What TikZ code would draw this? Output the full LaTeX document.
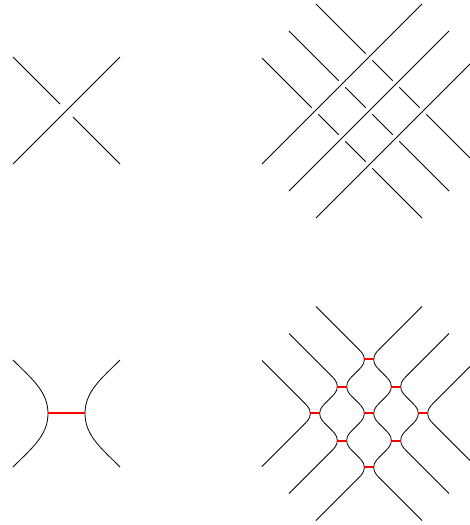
\documentclass[tikz,border=0pt]{standalone}
\newcommand\smoothcross[3]{%
  \begin{scope}[shift={({#1},{#2})},scale=#3]
    \draw[strand] (-53.5,-53.5) .. controls (-35,-35) and (-18.5,-22) .. (-18.5,0)
                  .. controls (-18.5,22) and (-35,35) .. (-53.5,53.5);
    \draw[strand] (53.5,-53.5) .. controls (35,-35) and (18.5,-22) .. (18.5,0)
                  .. controls (18.5,22) and (35,35) .. (53.5,53.5);
  \end{scope}}
\begin{document}
\begin{tikzpicture}[x=1pt,y=-1pt,
  strand/.style={line width=0.8pt,black},
  redbar/.style={line width=2pt,draw=red}]
\useasboundingbox (0,0) rectangle (470,525);
\clip (0,0) rectangle (470,525);
% top-left crossing
\draw[strand] (13,164) -- (120,57);
\draw[strand] (13,57) -- (60,104);
\draw[strand] (73,117) -- (120,164);
% top-right grid: over strands
\foreach \k in {-1,0,1}{
  \pgfmathsetmacro\mx{369+27*\k}
  \pgfmathsetmacro\my{111+27*\k}
  \draw[strand] ({\mx-80},{\my+80}) -- ({\mx+80},{\my-80});
}
% under strands
\foreach \m in {-1,0,1}{
  \pgfmathsetmacro\mx{369+27*\m}
  \pgfmathsetmacro\my{111-27*\m}
  \foreach \a/\b in {-80/-30.3,-23.7/-3.3,3.3/23.7,30.3/80}{
    \draw[strand] ({\mx+\a},{\my+\a}) -- ({\mx+\b},{\my+\b});
  }
}
% bottom-left smoothing
\smoothcross{66.5}{413.5}{1}
% bottom-right smoothed grid
\foreach \k in {-1,0,1}{
  \foreach \m in {-1,0,1}{
    \pgfmathsetmacro\cx{369+27*(\k+\m)}
    \pgfmathsetmacro\cy{413.5+27*(\k-\m)}
    \smoothcross{\cx}{\cy}{0.25234}
  }
}
\foreach \k in {-1,0,1}{
  \pgfmathsetmacro\mx{369+27*\k}
  \pgfmathsetmacro\my{413.5+27*\k}
  \draw[strand] ({\mx-80},{\my+80}) -- ({\mx-40.5},{\my+40.5});
  \draw[strand] ({\mx+80},{\my-80}) -- ({\mx+40.5},{\my-40.5});
}
\foreach \m in {-1,0,1}{
  \pgfmathsetmacro\mx{369+27*\m}
  \pgfmathsetmacro\my{413.5-27*\m}
  \draw[strand] ({\mx-80},{\my-80}) -- ({\mx-40.5},{\my-40.5});
  \draw[strand] ({\mx+80},{\my+80}) -- ({\mx+40.5},{\my+40.5});
}
% red bars
\draw[redbar] (48,413) -- (85,413);
\foreach \cx/\cy in {369/359, 342/387, 396/387, 315/413, 369/413, 423/413,
                     342/441, 396/441, 369/467}{
  \draw[redbar] ({\cx-4.67},\cy) -- ({\cx+4.67},\cy);
}
\end{tikzpicture}
\end{document}
